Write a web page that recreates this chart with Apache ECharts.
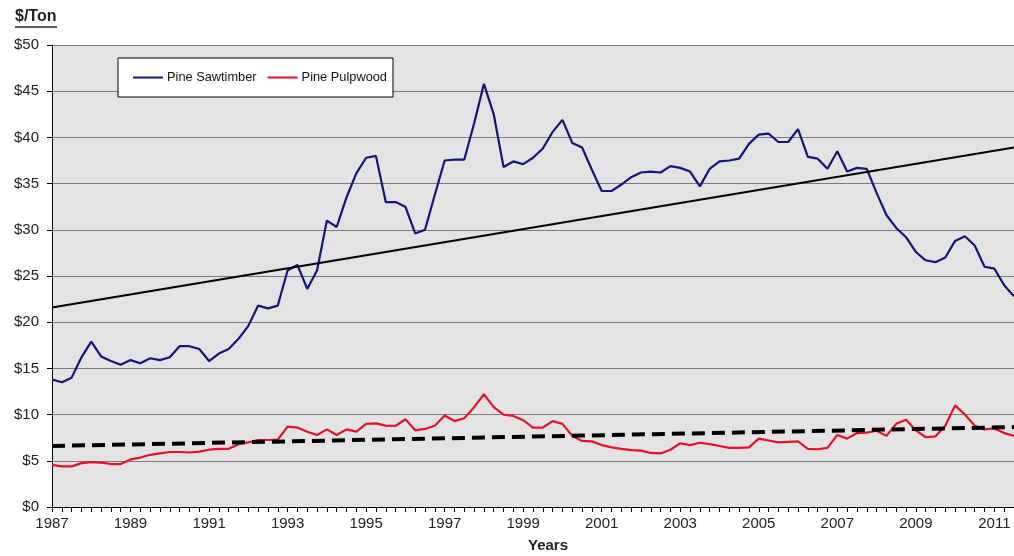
<!DOCTYPE html>
<html>
<head>
<meta charset="utf-8">
<script src="https://cdn.jsdelivr.net/npm/echarts@6/dist/echarts.min.js"></script>
<style>
  html, body { margin: 0; padding: 0; background: #fff; }
  #chart { width: 1014px; height: 556px; }
</style>
</head>
<body>
<div id="chart"></div>
<script>
// quarterly prices, 1987 Q1 .. 2011 Q3
const startYear = 1987;
const sawtimber = [
  13.8, 13.5, 14.0, 16.2, 17.9, 16.3, 15.8, 15.4, 15.9, 15.55,
  16.1, 15.9, 16.2, 17.4, 17.4, 17.1, 15.8, 16.6, 17.1, 18.2,
  19.6, 21.8, 21.5, 21.8, 25.6, 26.2, 23.6, 25.6, 31.0, 30.3,
  33.5, 36.1, 37.8, 38.0, 33.0, 33.0, 32.5, 29.6, 30.0, 33.8,
  37.5, 37.6, 37.6, 41.5, 45.8, 42.5, 36.8, 37.4, 37.1, 37.8,
  38.8, 40.6, 41.9, 39.4, 38.9, 36.5, 34.2, 34.2, 34.9, 35.7,
  36.2, 36.3, 36.2, 36.9, 36.7, 36.3, 34.7, 36.6, 37.4, 37.5,
  37.7, 39.3, 40.3, 40.4, 39.5, 39.5, 40.9, 37.9, 37.7, 36.6,
  38.5, 36.3, 36.7, 36.6, 34.0, 31.6, 30.2, 29.2, 27.6, 26.7,
  26.5, 27.0, 28.8, 29.3, 28.3, 26.0, 25.8, 24.0, 22.8
];
const pulpwood = [
  4.55, 4.4, 4.4, 4.75, 4.85, 4.8, 4.65, 4.65, 5.15, 5.35,
  5.65, 5.8, 5.95, 5.95, 5.9, 6.0, 6.2, 6.3, 6.3, 6.8,
  7.0, 7.25, 7.25, 7.3, 8.7, 8.6, 8.15, 7.8, 8.4, 7.8,
  8.4, 8.15, 9.0, 9.05, 8.8, 8.77, 9.5, 8.3, 8.45, 8.8,
  9.9, 9.3, 9.6, 10.8, 12.2, 10.8, 10.0, 9.85, 9.4, 8.6,
  8.6, 9.3, 9.0, 7.7, 7.15, 7.1, 6.7, 6.45, 6.3, 6.15,
  6.1, 5.85, 5.8, 6.2, 6.9, 6.7, 6.95, 6.8, 6.6, 6.4,
  6.4, 6.45, 7.4, 7.2, 7.0, 7.05, 7.1, 6.3, 6.25, 6.4,
  7.8, 7.4, 8.0, 8.05, 8.25, 7.7, 9.0, 9.45, 8.3, 7.55,
  7.65, 8.8, 11.0, 10.0, 8.8, 8.4, 8.5, 8.0, 7.7
];
// linear trend end points (first quarter, last quarter)
const sawTrend = [21.6, 38.9];
const pulpTrend = [6.6, 8.65];
const yTicks = [0, 50, 5];

const quarters = sawtimber.map((v, i) => (startYear + Math.floor(i / 4)) + ' Q' + (i % 4 + 1));
const last = quarters.length - 1;

const chart = echarts.init(document.getElementById('chart'));
const font = 'Liberation Sans, Arial, sans-serif';

chart.setOption({
  animation: false,
  textStyle: { fontFamily: font },
  grid: {
    left: 52, right: 0, top: 45, bottom: 49,
    show: true, backgroundColor: '#e3e3e3', borderWidth: 0
  },
  legend: {
    data: ['Pine Sawtimber', 'Pine Pulpwood'],
    left: 118, top: 58,
    padding: [13, 6, 13, 15],
    backgroundColor: '#fff',
    borderColor: '#000', borderWidth: 1,
    icon: 'rect', itemWidth: 30, itemHeight: 2, itemGap: 11,
    textStyle: { fontSize: 12.8, color: '#111', fontFamily: font, padding: [0, 0, 0, -1] }
  },
  xAxis: {
    type: 'category',
    data: quarters,
    boundaryGap: false,
    axisLine: { lineStyle: { color: '#000', width: 1 } },
    axisTick: { interval: 0, length: 5, lineStyle: { color: '#000' } },
    axisLabel: {
      interval: (idx) => idx % 8 === 0,
      formatter: (v) => v.slice(0, 4),
      fontSize: 15, color: '#222', margin: 9, fontFamily: font
    },
    splitLine: { show: false }
  },
  yAxis: {
    type: 'value',
    min: yTicks[0], max: yTicks[1], interval: yTicks[2],
    axisLine: { show: true, lineStyle: { color: '#000' } },
    axisTick: { show: true, length: 5, lineStyle: { color: '#000' } },
    axisLabel: { formatter: (v) => '$' + v, fontSize: 15, color: '#222', margin: 13, fontFamily: font },
    splitLine: { lineStyle: { color: '#7a7a7a', width: 1 } }
  },
  graphic: [
    { type: 'text', left: 15, top: 9, style: { text: '$/Ton', fontSize: 16, fontWeight: 'bold', fill: '#222', fontFamily: font } },
    { type: 'line', shape: { x1: 15, y1: 27, x2: 57, y2: 27 }, style: { stroke: '#222', lineWidth: 1.5 } },
    { type: 'text', left: 528, top: 538, style: { text: 'Years', fontSize: 15, fontWeight: 'bold', fill: '#222', fontFamily: font } }
  ],
  series: [
    {
      name: 'Pine Sawtimber', type: 'line', data: sawtimber,
      showSymbol: false, lineStyle: { color: '#14147a', width: 2.2 }, itemStyle: { color: '#14147a' }, z: 3
    },
    {
      name: 'Pine Pulpwood', type: 'line', data: pulpwood,
      showSymbol: false, lineStyle: { color: '#e5102a', width: 2.2 }, itemStyle: { color: '#e5102a' }, z: 3
    },
    {
      name: 'Sawtimber trend', type: 'line', data: [[0, sawTrend[0]], [last, sawTrend[1]]],
      showSymbol: false, lineStyle: { color: '#000', width: 2 }, z: 4
    },
    {
      name: 'Pulpwood trend', type: 'line', data: [[0, pulpTrend[0]], [last, pulpTrend[1]]],
      showSymbol: false, lineStyle: { color: '#000', width: 4, type: [13, 7] }, z: 4
    }
  ]
});
</script>
</body>
</html>
